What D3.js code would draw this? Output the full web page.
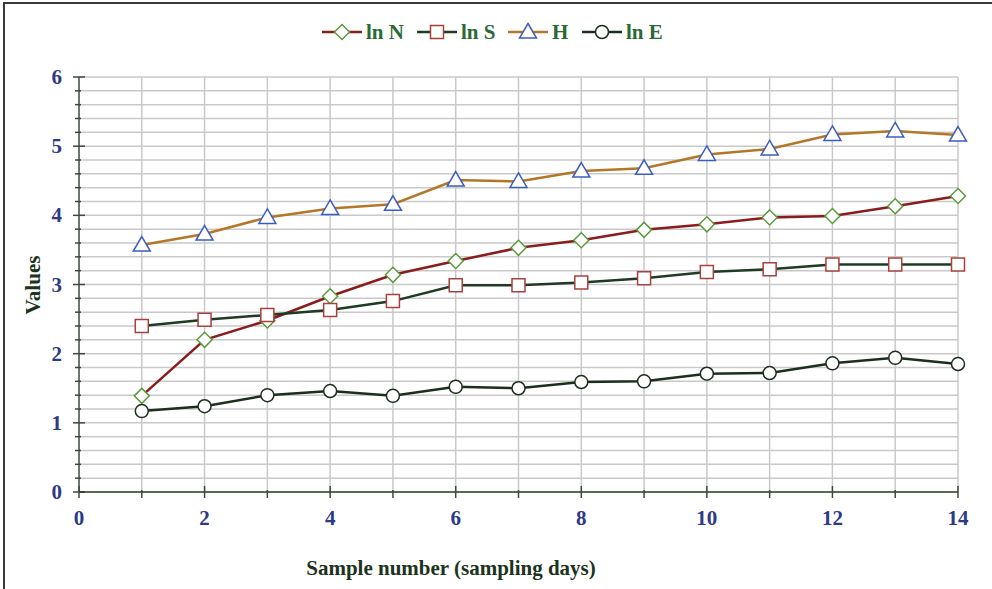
<!DOCTYPE html>
<html>
<head>
<meta charset="utf-8">
<script src="https://cdn.jsdelivr.net/npm/d3@7"></script>
<style>
  body { margin: 0; background: #fff; }
  svg { display: block; }
</style>
</head>
<body>
<svg id="chart" width="992" height="589"></svg>
<script>
// sample days 1..14
var samples = [1, 2, 3, 4, 5, 6, 7, 8, 9, 10, 11, 12, 13, 14];

var lnN = [1.39, 2.20, 2.48, 2.83, 3.14, 3.34, 3.53, 3.64, 3.79, 3.87, 3.97, 3.99, 4.13, 4.28];
var lnS = [2.40, 2.49, 2.56, 2.63, 2.76, 2.99, 2.99, 3.03, 3.09, 3.18, 3.22, 3.29, 3.29, 3.29];
var H   = [3.57, 3.73, 3.97, 4.10, 4.16, 4.51, 4.49, 4.64, 4.68, 4.88, 4.96, 5.17, 5.22, 5.16];
var lnE = [1.17, 1.24, 1.40, 1.46, 1.39, 1.52, 1.50, 1.59, 1.60, 1.71, 1.72, 1.86, 1.94, 1.85];

var seriesNames = ["ln N", "ln S", "H", "ln E"];
var xTickLabels = [0, 2, 4, 6, 8, 10, 12, 14];
var yTickLabels = [0, 1, 2, 3, 4, 5, 6];

var series = [
  { name: seriesNames[0], values: lnN, line: "#8b1c1c", stroke: "#5c9a3c", shape: "diamond" },
  { name: seriesNames[1], values: lnS, line: "#1e3b24", stroke: "#a8403c", shape: "square" },
  { name: seriesNames[2], values: H,   line: "#b3772a", stroke: "#3b5cc0", shape: "triangle" },
  { name: seriesNames[3], values: lnE, line: "#1c2e1e", stroke: "#1c2e1e", shape: "circle" }
];

var font = "'Liberation Serif', 'DejaVu Serif', serif";
var svg = d3.select("#chart");

// frame (only top and left visible)
svg.append("path")
  .attr("d", "M4,1000 L4,3 L1000,3")
  .attr("fill", "none")
  .attr("stroke", "#3a3a3a")
  .attr("stroke-width", 2);

var x = d3.scaleLinear().domain([0, 14]).range([79, 958]);
var y = d3.scaleLinear().domain([0, 6]).range([492, 77]);

// gridlines
var g = svg.append("g");
g.selectAll(".hgrid")
  .data(d3.range(1, 31).map(d => d / 5))
  .enter().append("line")
  .attr("x1", x(0)).attr("x2", x(14))
  .attr("y1", d => y(d)).attr("y2", d => y(d))
  .attr("stroke", "#c9c9c9").attr("stroke-width", 1.5);
g.selectAll(".vgrid")
  .data(samples)
  .enter().append("line")
  .attr("x1", d => x(d)).attr("x2", d => x(d))
  .attr("y1", y(0)).attr("y2", y(6))
  .attr("stroke", "#c9c9c9").attr("stroke-width", 1.5);

// y axis
var axisCol = "#3a4a3c";
var yAxis = svg.append("g");
yAxis.append("line")
  .attr("x1", x(0)).attr("x2", x(0)).attr("y1", y(0)).attr("y2", y(6))
  .attr("stroke", axisCol).attr("stroke-width", 1.5);
yAxis.selectAll(".ytick")
  .data(d3.range(0, 31).map(d => d / 5))
  .enter().append("line")
  .attr("x1", (d, i) => i % 5 === 0 ? x(0) - 6 : x(0) - 4)
  .attr("x2", (d, i) => i % 5 === 0 ? x(0) + 6 : x(0) + 2)
  .attr("y1", d => y(d)).attr("y2", d => y(d))
  .attr("stroke", axisCol).attr("stroke-width", 1.5);
yAxis.selectAll(".ylab")
  .data(yTickLabels)
  .enter().append("text")
  .attr("x", 62).attr("y", d => y(d) + 7)
  .attr("text-anchor", "end")
  .attr("font-family", font).attr("font-weight", "bold").attr("font-size", 21)
  .attr("fill", "#2d3a86")
  .text(d => d);

// x axis
var xAxis = svg.append("g");
xAxis.append("line")
  .attr("x1", x(0)).attr("x2", x(14)).attr("y1", y(0)).attr("y2", y(0))
  .attr("stroke", "#1f3a22").attr("stroke-width", 1.5);
xAxis.selectAll(".xtick")
  .data(d3.range(0, 15))
  .enter().append("line")
  .attr("x1", d => x(d)).attr("x2", d => x(d))
  .attr("y1", d => d % 2 === 0 ? y(0) - 6 : y(0) - 2)
  .attr("y2", y(0) + 6)
  .attr("stroke", axisCol).attr("stroke-width", 1.5);
xAxis.selectAll(".xlab")
  .data(xTickLabels)
  .enter().append("text")
  .attr("x", d => x(d)).attr("y", 525)
  .attr("text-anchor", "middle")
  .attr("font-family", font).attr("font-weight", "bold").attr("font-size", 21)
  .attr("fill", "#2d3a86")
  .text(d => d);

// axis titles
svg.append("text")
  .attr("x", 451).attr("y", 575)
  .attr("text-anchor", "middle")
  .attr("font-family", font).attr("font-weight", "bold").attr("font-size", 21)
  .attr("fill", "#1c3320")
  .text("Sample number (sampling days)");
svg.append("text")
  .attr("transform", "translate(40,285) rotate(-90)")
  .attr("text-anchor", "middle")
  .attr("font-family", font).attr("font-weight", "bold").attr("font-size", 21)
  .attr("fill", "#1c3320")
  .text("Values");

// marker drawing
function marker(sel, shape, stroke) {
  var p;
  if (shape === "diamond") p = "M0,-7.5 L7.5,0 L0,7.5 L-7.5,0 Z";
  else if (shape === "square") p = "M-6.5,-6.5 H6.5 V6.5 H-6.5 Z";
  else if (shape === "triangle") p = "M0,-8.5 L8.5,6 L-8.5,6 Z";
  else p = d3.symbol().type(d3.symbolCircle).size(Math.PI * 6.5 * 6.5)();
  sel.append("path")
    .attr("d", p)
    .attr("fill", "#fff")
    .attr("stroke", stroke)
    .attr("stroke-width", 1.5);
}

var line = d3.line()
  .x((d, i) => x(samples[i]))
  .y(d => y(d));

series.forEach(function(s) {
  svg.append("path")
    .attr("d", line(s.values))
    .attr("fill", "none")
    .attr("stroke", s.line)
    .attr("stroke-width", 2.5);
  var pts = svg.selectAll(null)
    .data(s.values)
    .enter().append("g")
    .attr("transform", (d, i) => "translate(" + x(samples[i]) + "," + y(d) + ")");
  marker(pts, s.shape, s.stroke);
});

// legend
var legendX = [322, 417, 508, 582];
series.forEach(function(s, i) {
  var lg = svg.append("g").attr("transform", "translate(" + legendX[i] + ",32)");
  lg.append("line")
    .attr("x1", 0).attr("x2", 40).attr("y1", 0).attr("y2", 0)
    .attr("stroke", s.line).attr("stroke-width", 2.5);
  marker(lg.append("g").attr("transform", "translate(20,0)"), s.shape, s.stroke);
  lg.append("text")
    .attr("x", 44).attr("y", 7)
    .attr("font-family", font).attr("font-weight", "bold").attr("font-size", 21)
    .attr("fill", "#2a6a34")
    .text(s.name);
});
</script>
</body>
</html>
